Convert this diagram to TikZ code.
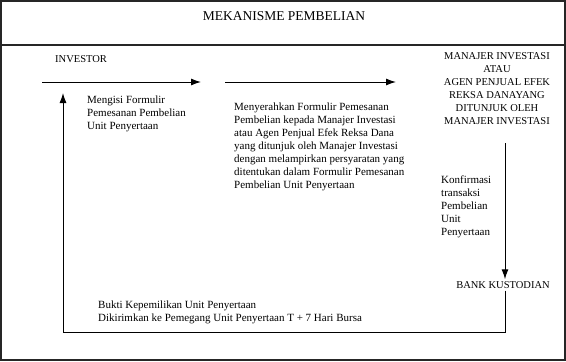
\documentclass[tikz,border=0pt]{standalone}
\usepackage{fontspec}
\setmainfont{Liberation Serif}
\usetikzlibrary{arrows.meta}
\begin{document}
\begin{tikzpicture}[x=1pt,y=-1pt,
  every node/.style={font=\fontsize{10.5}{13}\selectfont},
  body/.style={font=\fontsize{11}{13}\selectfont},
  txt/.style={align=left,inner sep=0pt,anchor=north west},
  ctxt/.style={align=center,inner sep=0pt,anchor=north},
  frame/.style={line width=1.1pt,draw=black!85},
  conn/.style={line width=1pt},
  arr/.style={conn,-{Latex[length=10pt,width=7pt]}}]
\useasboundingbox (0,0) rectangle (566,362);
\draw[frame] (1,1) rectangle (565,360);
\draw[frame] (1,45) -- (565,45);
\node[font=\fontsize{13.5}{15}\selectfont] (title) at (284,16) {MEKANISME PEMBELIAN};
\node[txt] (inv) at (55,55) {INVESTOR};
\coordinate (a1s) at (42,82);
\coordinate (a1e) at (201,82);
\coordinate (a2s) at (225,82);
\coordinate (a2e) at (396,82);
\draw[arr] (a1s) -- (a1e);
\draw[arr] (a2s) -- (a2e);
\node[txt,body] (t1) at (87,96) {Mengisi Formulir\\Pemesanan Pembelian\\Unit Penyertaan};
\node[txt,body] (t2) at (234,103) {Menyerahkan Formulir Pemesanan\\Pembelian kepada Manajer Investasi\\atau Agen Penjual Efek Reksa Dana\\yang ditunjuk oleh Manajer Investasi\\dengan melampirkan persyaratan yang\\ditentukan dalam Formulir Pemesanan\\Pembelian Unit Penyertaan};
\node[ctxt] (mgr) at (497,52) {MANAJER INVESTASI\\ATAU\\AGEN PENJUAL EFEK\\REKSA DANAYANG\\DITUNJUK OLEH\\MANAJER INVESTASI};
\node[txt,body] (t3) at (441,176) {Konfirmasi\\transaksi\\Pembelian\\Unit\\Penyertaan};
\node[inner sep=2pt] (bank) at (503,285) {BANK KUSTODIAN};
\coordinate (v1) at (505,143);
\draw[arr] (v1) -- (bank.north -| v1);
\coordinate (r1) at (505,332);
\coordinate (r2) at (63,332);
\coordinate (r3) at (63,93);
\draw[arr] (bank.south -| v1) -- (r1) -- (r2) -- (r3);
\node[txt,body] (t4) at (98,301) {Bukti Kepemilikan Unit Penyertaan\\Dikirimkan ke Pemegang Unit Penyertaan T + 7 Hari Bursa};
\end{tikzpicture}
\end{document}
